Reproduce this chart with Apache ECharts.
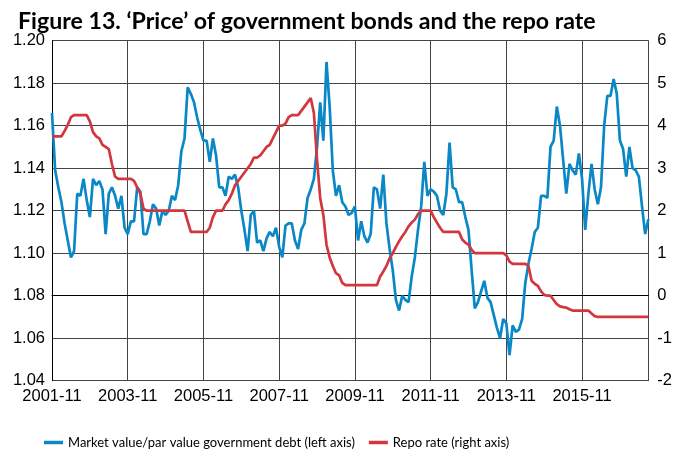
<!DOCTYPE html>
<html>
<head>
<meta charset="utf-8">
<script src="https://cdn.jsdelivr.net/npm/echarts@6/dist/echarts.min.js"></script>
<style>
html,body{margin:0;padding:0;background:#fff;}
#c{width:675px;height:457px;}
</style>
</head>
<body>
<div id="c"></div>
<script>
// Monthly categories from 2001-11 to 2017-08
const startYear = 2001, startMonth = 11, nMonths = 190;
const categories = [];
for (let k = 0; k < nMonths; k++) {
  const m = startMonth - 1 + k;
  const y = startYear + Math.floor(m / 12);
  const mm = (m % 12) + 1;
  categories.push(y + '-' + (mm < 10 ? '0' + mm : mm));
}

const marketValueRatio = [
  1.166,1.139,1.131,1.124,1.114,1.106,1.098,1.101,1.128,1.127,
  1.135,1.125,1.117,1.135,1.132,1.134,1.130,1.109,1.128,1.131,
  1.127,1.121,1.127,1.112,1.109,1.115,1.115,1.131,1.129,1.109,
  1.109,1.115,1.123,1.121,1.113,1.120,1.118,1.120,1.127,1.125,
  1.132,1.148,1.154,1.178,1.175,1.171,1.164,1.158,1.153,1.153,
  1.143,1.154,1.146,1.131,1.131,1.127,1.136,1.135,1.137,1.131,
  1.120,1.111,1.101,1.118,1.120,1.105,1.106,1.101,1.107,1.110,
  1.108,1.112,1.103,1.098,1.113,1.114,1.114,1.106,1.102,1.111,
  1.114,1.126,1.130,1.135,1.150,1.171,1.153,1.190,1.169,1.139,
  1.127,1.132,1.124,1.122,1.118,1.119,1.122,1.106,1.115,1.108,
  1.105,1.109,1.131,1.130,1.121,1.137,1.114,1.102,1.092,1.078,
  1.073,1.080,1.078,1.077,1.089,1.098,1.111,1.122,1.143,1.127,
  1.130,1.129,1.127,1.120,1.118,1.128,1.152,1.131,1.130,1.124,
  1.124,1.117,1.111,1.092,1.074,1.077,1.082,1.087,1.079,1.077,
  1.071,1.065,1.060,1.069,1.067,1.052,1.066,1.063,1.064,1.069,
  1.086,1.095,1.102,1.110,1.112,1.127,1.127,1.126,1.150,1.153,
  1.169,1.160,1.144,1.128,1.142,1.139,1.137,1.147,1.135,1.111,
  1.128,1.142,1.130,1.123,1.131,1.160,1.174,1.174,1.182,1.175,
  1.153,1.149,1.136,1.150,1.140,1.139,1.136,1.122,1.109,1.116
];

const repoRate = [
  3.75,3.75,3.75,3.75,3.88,4.02,4.20,4.25,4.25,4.25,
  4.25,4.25,4.10,3.85,3.75,3.70,3.55,3.50,3.45,3.10,
  2.80,2.75,2.75,2.75,2.75,2.75,2.70,2.55,2.40,2.05,
  2.00,2.00,2.00,2.00,2.00,2.00,2.00,2.00,2.00,2.00,
  2.00,2.00,2.00,1.75,1.50,1.50,1.50,1.50,1.50,1.50,
  1.60,1.85,2.00,2.00,2.00,2.15,2.25,2.40,2.60,2.70,
  2.80,2.90,3.00,3.10,3.25,3.25,3.30,3.40,3.50,3.55,
  3.70,3.85,4.00,4.00,4.05,4.20,4.25,4.25,4.25,4.35,
  4.45,4.55,4.65,4.30,3.20,2.30,1.90,1.20,0.90,0.70,
  0.53,0.48,0.30,0.25,0.25,0.25,0.25,0.25,0.25,0.25,
  0.25,0.25,0.25,0.25,0.45,0.57,0.70,0.88,1.00,1.15,
  1.28,1.40,1.50,1.63,1.72,1.79,1.92,2.00,2.00,2.00,
  2.00,1.85,1.72,1.60,1.50,1.50,1.50,1.50,1.50,1.50,
  1.32,1.25,1.20,1.08,1.00,1.00,1.00,1.00,1.00,1.00,
  1.00,1.00,1.00,1.00,0.95,0.80,0.75,0.75,0.75,0.75,
  0.75,0.70,0.35,0.28,0.23,0.10,0.02,0.00,0.00,-0.10,
  -0.20,-0.25,-0.27,-0.28,-0.32,-0.35,-0.35,-0.35,-0.35,-0.35,
  -0.35,-0.42,-0.48,-0.50,-0.50,-0.50,-0.50,-0.50,-0.50,-0.50,
  -0.50,-0.50,-0.50,-0.50,-0.50,-0.50,-0.50,-0.50,-0.50,-0.50
];

const seriesNames = ['Market value/par value government debt (left axis)', 'Repo rate (right axis)'];
const titleText = 'Figure 13. \u2018Price\u2019 of government bonds and the repo rate';

const FONT = '"Liberation Sans", Arial, sans-serif';
const HUMAN = 'Lato, "Liberation Sans", sans-serif';

// fit a font size so that the text spans a target pixel width
function fitSize(text, weight, target) {
  const ctx = document.createElement('canvas').getContext('2d');
  ctx.font = weight + ' 20px ' + HUMAN;
  const w = ctx.measureText(text).width;
  return w > 0 ? 20 * target / w : 15;
}

function render() {
  const titleSize = fitSize(titleText, 'bold', 578);
  const legendSize = fitSize(seriesNames[0], 'normal', 287);
  const chart = echarts.init(document.getElementById('c'), null, {renderer: 'canvas'});
  chart.setOption({
    animation: false,
    backgroundColor: '#fff',
    title: {
      text: titleText,
      left: 13, top: 5,
      textStyle: {fontFamily: HUMAN, fontWeight: 'bold', fontSize: titleSize, color: '#000'}
    },
    grid: {left: 52, right: 18.3, top: 40.7, bottom: 76.3, containLabel: false},
    legend: {
      data: seriesNames,
      left: 39, top: 431,
      icon: 'rect', itemWidth: 19, itemHeight: 3.5, itemGap: 14,
      textStyle: {fontFamily: HUMAN, fontSize: legendSize, color: '#000'}
    },
    xAxis: {
      type: 'category',
      data: categories,
      boundaryGap: false,
      axisLine: {show: true, lineStyle: {color: '#000', width: 1}},
      axisTick: {show: false},
      axisLabel: {interval: 23, fontFamily: FONT, fontSize: 16.5, color: '#000', margin: 7},
      splitLine: {show: true, interval: 23, lineStyle: {color: '#444', width: 1}}
    },
    yAxis: [
      {
        type: 'value', min: 1.04, max: 1.20, interval: 0.02,
        axisLine: {show: true, lineStyle: {color: '#000', width: 1}},
        axisTick: {show: false},
        axisLabel: {fontFamily: FONT, fontSize: 16.5, color: '#000', margin: 7,
          formatter: v => v.toFixed(2)},
        splitLine: {show: true, lineStyle: {color: '#444', width: 1}}
      },
      {
        type: 'value', min: -2, max: 6, interval: 1,
        axisLine: {show: true, lineStyle: {color: '#444', width: 1}},
        axisTick: {show: false},
        axisLabel: {fontFamily: FONT, fontSize: 16.5, color: '#000', margin: 9},
        splitLine: {show: false}
      }
    ],
    series: [
      {
        name: seriesNames[0], type: 'line', yAxisIndex: 0,
        data: marketValueRatio, showSymbol: false, symbol: 'none',
        lineStyle: {color: '#0A87C6', width: 2.7}, itemStyle: {color: '#0A87C6'}, z: 3
      },
      {
        name: seriesNames[1], type: 'line', yAxisIndex: 1,
        data: repoRate, showSymbol: false, symbol: 'none',
        lineStyle: {color: '#D2363E', width: 2.7}, itemStyle: {color: '#D2363E'}, z: 4
      }
    ]
  });
}

let done = false;
function go() { if (!done) { done = true; render(); } }
if (document.fonts && document.fonts.load) {
  Promise.all([
    document.fonts.load('15px Lato'),
    document.fonts.load('bold 20px Lato'),
    document.fonts.load('16px "Liberation Sans"')
  ]).then(go, go);
  setTimeout(go, 1500);
} else {
  go();
}
</script>
</body>
</html>
